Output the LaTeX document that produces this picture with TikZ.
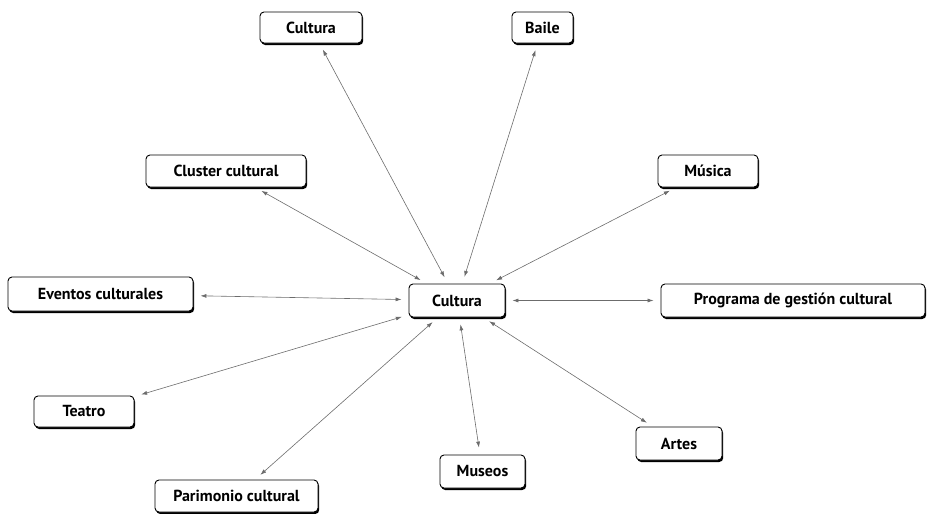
\documentclass[tikz,border=0pt]{standalone}
\usepackage{fontspec}
\setmainfont{PT Sans}
\usetikzlibrary{shadows,arrows.meta}
\begin{document}
\begin{tikzpicture}[x=1pt,y=-1pt,
  box/.style={draw=black,line width=0.9pt,rounded corners=4pt,fill=white,
    drop shadow={shadow xshift=1.2pt,shadow yshift=-2pt,fill=black,opacity=1},
    font=\fontsize{16}{18}\selectfont\bfseries,inner sep=0pt},
  link/.style={draw=gray!85!black,line width=0.6pt,{Latex[length=6pt,width=4pt]}-{Latex[length=6pt,width=4pt]},shorten >=7pt,shorten <=7pt}]
\useasboundingbox (0,0) rectangle (929,514);
\newcommand\bx[6]{\node[box,minimum width=#4-#2,minimum height=#5-#3] (#1) at ({(#2+#4)/2},{(#3+#5)/2}) {#6};}
\bx{ctop}{260}{12}{362}{43}{Cultura}
\bx{baile}{512}{12}{573}{43}{Baile}
\bx{cluster}{146}{155}{306}{187}{Cluster cultural}
\bx{musica}{658}{155}{758}{187}{Música}
\bx{eventos}{8}{277}{193}{311}{Eventos culturales}
\bx{center}{409}{284}{505}{317}{Cultura}
\bx{programa}{661}{284}{925}{317}{Programa de gestión cultural}
\bx{teatro}{34}{396}{134}{427}{Teatro}
\bx{museos}{440}{455}{525}{488}{Museos}
\bx{artes}{636}{427}{722}{460}{Artes}
\bx{patri}{155}{480}{318}{512}{Parimonio cultural}
\draw[link] (ctop) -- (center);
\draw[link] (baile) -- (center);
\draw[link] (cluster) -- (center);
\draw[link] (musica) -- (center);
\draw[link] (eventos) -- (center);
\draw[link] (programa) -- (center);
\draw[link] (teatro) -- (center);
\draw[link] (patri) -- (center);
\draw[link] (museos) -- (center);
\draw[link] (artes) -- (center);
\end{tikzpicture}
\end{document}
